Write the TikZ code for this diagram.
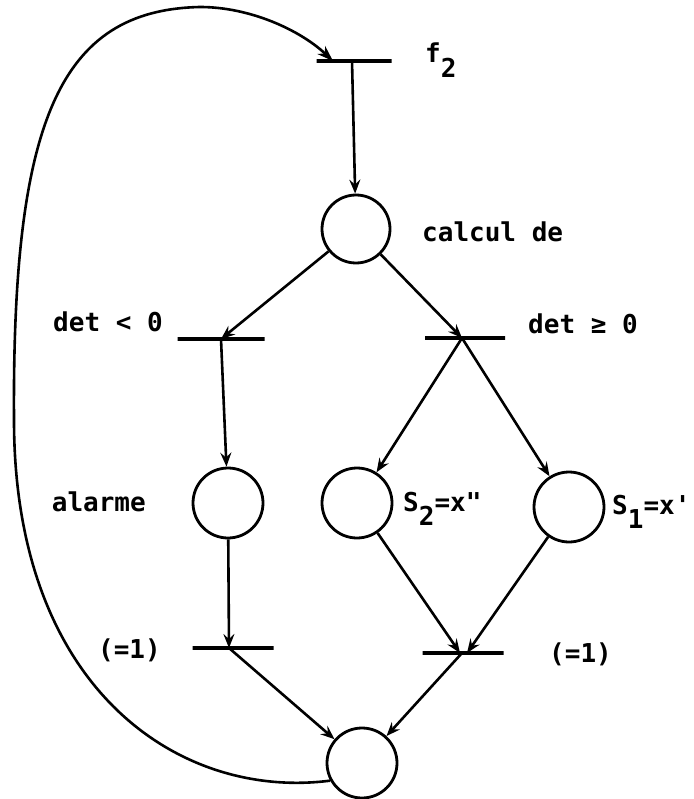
\documentclass[tikz,border=0pt]{standalone}
\usepackage{fontspec}
\newfontfamily\tw{DejaVu Sans Mono}
\usetikzlibrary{arrows.meta}
\begin{document}
\begin{tikzpicture}[x=1pt,y=-1pt,
  place/.style={circle,draw,line width=2.8pt,minimum size=70pt,inner sep=0pt},
  trans/.style={draw,line width=4.2pt,inner sep=0pt,minimum height=0pt,outer sep=0pt},
  arr/.style={line width=2.6pt,-{Stealth[length=14pt,width=11pt,inset=5pt]}},
  loopline/.style={line width=2.6pt,-{Stealth[length=16pt,width=11pt,inset=5pt]}},
  lab/.style={font=\tw\bfseries\fontsize{26}{30}\selectfont,inner sep=0pt}]
\useasboundingbox (0,0) rectangle (693,799);
% transitions
\node[trans,minimum width=75pt] (T0) at (354,61) {};
\node[trans,minimum width=87pt] (T1) at (221,339) {};
\node[trans,minimum width=80pt] (T2) at (465,338) {};
\node[trans,minimum width=81pt] (T3) at (233,648) {};
\node[trans,minimum width=81pt] (T4) at (463,653) {};
% places
\node[place,minimum size=68pt] (P0) at (356,229) {};
\node[place] (P1) at (228,503) {};
\node[place] (P2) at (357,503) {};
\node[place] (P3) at (569,507) {};
\node[place] (P4) at (362,763) {};
% labels
\node[lab,anchor=base west] (Lf) at (425,63) {f\lower15pt\hbox{2}};
\node[lab,anchor=base west] (Lcalc) at (422,242) {calcul de};
\node[lab,anchor=base east] (Llt) at (163,331) {det < 0};
\node[lab,anchor=base west] (Lge) at (528,333) {det ≥ 0};
\node[lab,anchor=base east] (Lal) at (146,511) {alarme};
\node[lab,anchor=base west] (Ls2) at (403,511) {S\lower14pt\hbox{2}=x\textquotedbl};
\node[lab,anchor=base west] (Ls1) at (612,514) {S\lower14pt\hbox{1}=x\textquotesingle};
\node[lab,anchor=base east] (Leq1) at (161,658) {(=1)};
\node[lab,anchor=base west] (Leq2) at (549,662) {(=1)};
% arcs
\draw[arr] ([xshift=-2pt]T0.center) -- (P0);
\draw[arr] (P0) -- (T1.center);
\draw[arr] (P0) -- ([xshift=-3pt]T2.center);
\draw[arr] (T1.center) -- (P1);
\draw[arr] ([xshift=-3pt]T2.center) -- (P2);
\draw[arr] ([xshift=-3pt]T2.center) -- (P3);
\draw[arr] (P1) -- ([xshift=-4pt]T3.center);
\draw[arr] (P2) -- ([xshift=-3pt]T4.center);
\draw[arr] (P3) -- ([xshift=4pt]T4.center);
\draw[arr] ([xshift=-4pt]T3.center) -- (P4);
\draw[arr] ([xshift=-1pt]T4.center) -- (P4);
% return loop
\draw[loopline] (P4.209) .. controls (180,800) and (14,690) .. (14,420)
  .. controls (12,120) and (60,10) .. (200,7)
  .. controls (250,7) and (300,30) .. ([xshift=-21pt]T0.center);
\end{tikzpicture}
\end{document}
